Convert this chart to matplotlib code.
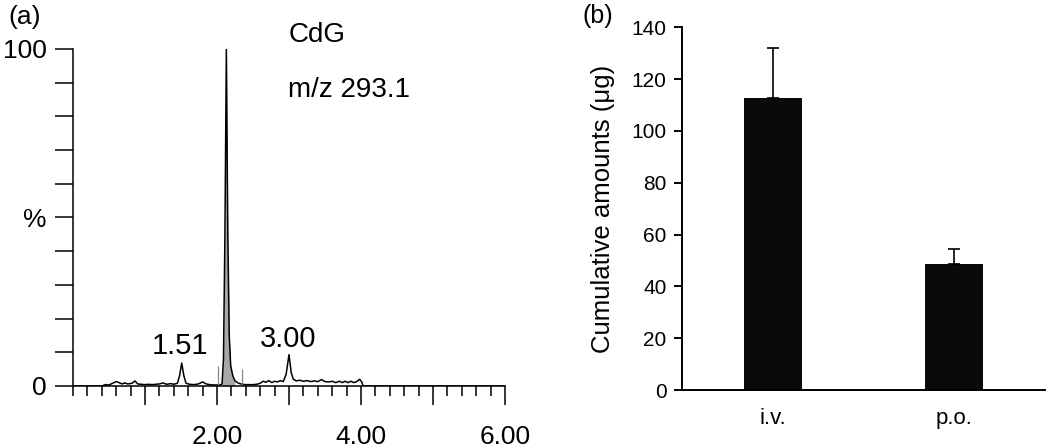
import numpy as np
import matplotlib
matplotlib.use('Agg')
import matplotlib.pyplot as plt
from matplotlib.ticker import MultipleLocator, FixedLocator

plt.rcParams['font.family'] = ['Liberation Sans', 'DejaVu Sans']

# (a) chromatogram
rt = [0.00, 0.40, 0.45, 0.50, 0.55, 0.60, 0.64, 0.68, 0.72, 0.76, 0.82, 0.86, 0.90,
      0.95, 1.00, 1.05, 1.10, 1.15, 1.20, 1.25, 1.30, 1.36, 1.40, 1.45, 1.48, 1.51,
      1.54, 1.57, 1.62, 1.68, 1.74, 1.80, 1.85, 1.90, 1.95, 2.00, 2.04, 2.07, 2.09,
      2.11, 2.13, 2.15, 2.17, 2.19, 2.22, 2.25, 2.30, 2.35, 2.40, 2.50, 2.55, 2.60,
      2.64, 2.68, 2.72, 2.76, 2.80, 2.84, 2.88, 2.92, 2.96, 3.00, 3.03, 3.06, 3.10,
      3.15, 3.20, 3.25, 3.30, 3.35, 3.40, 3.45, 3.50, 3.55, 3.60, 3.65, 3.70, 3.74,
      3.78, 3.82, 3.86, 3.90, 3.94, 3.98, 4.01, 4.03, 6.00]
intensity = [0, 0, 0.4, 0.3, 0.8, 1.3, 1.0, 0.6, 0.9, 0.6, 0.8, 1.5, 0.6,
             0.5, 0.4, 0.5, 0.4, 0.5, 0.6, 0.9, 0.5, 0.7, 0.5, 0.8, 3.0, 6.8,
             3.0, 0.8, 0.5, 0.4, 0.6, 1.2, 0.6, 0.4, 0.3, 0.3, 0.3, 0.6, 8,
             45, 100, 45, 15, 6, 3, 1.5, 0.8, 0.5, 0.4, 0.4, 0.5, 0.8,
             1.4, 1.1, 1.6, 1.0, 1.4, 1.2, 1.6, 1.3, 3.5, 9.3, 4.0, 2.0, 1.5,
             1.7, 1.4, 1.6, 1.3, 1.5, 1.3, 1.9, 1.3, 1.2, 1.4, 1.0, 1.4, 1.0,
             1.4, 1.0, 1.4, 1.0, 1.3, 2.0, 1.2, 0, 0]
peak_window = (2.07, 2.25)
marker_rt = [2.02, 2.35]
marker_h = [6, 5]
peak_labels = ['1.51', '3.00']
peak_label_rt = [1.49, 2.99]
peak_label_y = [9.5, 11.6]

# (b) cumulative amounts
routes = ['i.v.', 'p.o.']
amounts = [112.8, 48.6]
amount_sd = [19.1, 5.9]

fig = plt.figure(figsize=(10.5, 4.47), dpi=100)

# ---- panel (a)
ax1 = fig.add_axes([0.0695, 0.1365, 0.4115, 0.7539])
rt_arr = np.array(rt)
int_arr = np.array(intensity)
ax1.fill_between(rt_arr, int_arr, 0,
                 where=(rt_arr >= peak_window[0]) & (rt_arr <= peak_window[1]),
                 color='#a8a8a8', lw=0)
ax1.plot(rt_arr, int_arr, color='black', lw=1.1)
ax1.vlines(marker_rt, 0, marker_h, color='#888888', lw=0.9)
for lab, x, y in zip(peak_labels, peak_label_rt, peak_label_y):
    ax1.text(x, y, lab, ha='center', va='baseline', fontsize=21)
ax1.text(2.99, 102, 'CdG', ha='left', va='baseline', fontsize=20)
ax1.text(2.99, 85.8, 'm/z 293.1', ha='left', va='baseline', fontsize=20)

ax1.set_xlim(0, 6)
ax1.set_ylim(0, 100)
ax1.spines['top'].set_visible(False)
ax1.spines['right'].set_visible(False)
ax1.spines['left'].set_linewidth(1.1)
ax1.spines['bottom'].set_linewidth(1.1)
ax1.xaxis.set_major_locator(FixedLocator([1, 2, 3, 4, 5, 6]))
ax1.set_xticklabels(['', '2.00', '', '4.00', '', '6.00'])
ax1.xaxis.set_minor_locator(MultipleLocator(0.2))
ax1.yaxis.set_major_locator(FixedLocator([0, 50, 100]))
ax1.set_yticklabels(['0', '%', '100'])
ax1.yaxis.set_minor_locator(MultipleLocator(10))
ax1.tick_params(axis='x', which='major', direction='out', length=14, width=1.1,
                pad=14, labelsize=19)
ax1.tick_params(axis='x', which='minor', direction='out', length=7, width=1.1)
ax1.tick_params(axis='y', which='both', direction='out', length=13, width=1.1,
                pad=6, labelsize=19)
fig.text(0.008, 0.962, '(a)', fontsize=19, va='center')

# ---- panel (b)
ax2 = fig.add_axes([0.6495, 0.1275, 0.3455, 0.8115])
xpos = np.arange(len(routes))
ax2.bar(xpos, amounts, width=0.32, color='#0a0a0a')
ax2.errorbar(xpos, amounts, yerr=[[0, 0], amount_sd], fmt='none',
             ecolor='black', elinewidth=1.2, capsize=4, capthick=1.2)
ax2.set_xlim(-0.5, 1.5)
ax2.set_ylim(0, 140)
ax2.set_xticks(xpos)
ax2.set_xticklabels(routes)
ax2.yaxis.set_major_locator(MultipleLocator(20))
ax2.spines['top'].set_visible(False)
ax2.spines['right'].set_visible(False)
ax2.spines['left'].set_linewidth(1.4)
ax2.spines['bottom'].set_linewidth(1.4)
ax2.tick_params(axis='x', length=0, pad=13, labelsize=16)
ax2.tick_params(axis='y', direction='out', length=6, width=1.4, pad=5, labelsize=15)
ax2.set_ylabel('Cumulative amounts (μg)', fontsize=18.5)
ax2.yaxis.set_label_coords(-0.185, 0.5)
fig.text(0.555, 0.965, '(b)', fontsize=18, va='center')

fig.savefig('out.png', dpi=100)
